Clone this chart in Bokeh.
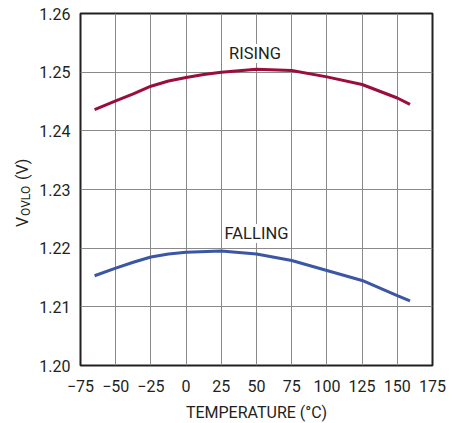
from bokeh.plotting import figure
from bokeh.layouts import row
from bokeh.models import FixedTicker, Label, Range1d, NumeralTickFormatter
from bokeh.core.properties import value
from bokeh.embed import file_html
from bokeh.resources import INLINE

# Data
temp_rising = [-65, -50, -37.5, -25, -12.5, 0, 12.5, 25, 50, 75, 100, 125, 150, 159]
vovlo_rising = [1.2436, 1.2451, 1.2463, 1.2476, 1.2485, 1.2491, 1.2496, 1.2500, 1.2505, 1.2503, 1.2492, 1.2479, 1.2456, 1.2445]
temp_falling = [-65, -50, -37.5, -25, -12.5, 0, 25, 50, 75, 100, 125, 150, 159]
vovlo_falling = [1.2153, 1.2166, 1.2176, 1.2185, 1.2190, 1.2193, 1.2195, 1.2190, 1.2179, 1.2162, 1.2145, 1.2119, 1.2110]

x_ticks = [-75, -50, -25, 0, 25, 50, 75, 100, 125, 150, 175]
x_tick_labels = ["−75", "−50", "−25", "0", "25", "50", "75", "100", "125", "150", "175"]
y_ticks = [1.20, 1.21, 1.22, 1.23, 1.24, 1.25, 1.26]

FONT = "Roboto"
TXT = "#231f20"
TOP, FH, BOT = 13, 352, 50
STRIP = 34

p = figure(output_backend="svg", toolbar_location=None,
           frame_width=352, frame_height=FH,
           min_border_left=80 - STRIP, min_border_top=TOP, min_border_right=23, min_border_bottom=BOT,
           x_range=Range1d(-75, 175), y_range=Range1d(1.20, 1.26))

p.outline_line_color = "#231f20"
p.outline_line_width = 2

p.xaxis.ticker = FixedTicker(ticks=x_ticks)
p.xaxis.major_label_overrides = {t: l for t, l in zip(x_ticks, x_tick_labels)}
p.yaxis.ticker = FixedTicker(ticks=y_ticks)
p.yaxis.formatter = NumeralTickFormatter(format="0.00")

for ax in (p.xaxis, p.yaxis):
    ax.axis_line_color = None
    ax.major_tick_line_color = None
    ax.minor_tick_line_color = None
    ax.major_tick_out = 0
    ax.major_tick_in = 0
    ax.minor_tick_out = 0
    ax.minor_tick_in = 0
    ax.major_label_text_font = FONT
    ax.major_label_text_font_size = "16px"
    ax.major_label_text_color = TXT
p.xaxis.major_label_standoff = 14
p.yaxis.major_label_standoff = 10

p.xaxis.axis_label = "TEMPERATURE (°C)"
p.xaxis.axis_label_text_font = FONT
p.xaxis.axis_label_text_font_size = "16px"
p.xaxis.axis_label_text_font_style = "normal"
p.xaxis.axis_label_text_color = TXT
p.xaxis.axis_label_standoff = 8

p.xgrid.ticker = FixedTicker(ticks=x_ticks)
p.ygrid.ticker = FixedTicker(ticks=y_ticks)
p.grid.grid_line_color = "#8a8a8a"
p.grid.grid_line_width = 1

p.line(temp_rising, vovlo_rising, line_color="#9b0e3c", line_width=3, line_join="round")
p.line(temp_falling, vovlo_falling, line_color="#3a56a5", line_width=3, line_join="round")

for txt, x, y in [("RISING", 49, 1.2532), ("FALLING", 50, 1.2225)]:
    p.add_layout(Label(x=x, y=y, text=txt, text_font=FONT, text_font_size="16.5px",
                       text_color=TXT, text_align="center", text_baseline="middle",
                       background_fill_color="white"))

# Left strip holding the rotated y-axis title V_OVLO (V)
lab = figure(output_backend="svg", toolbar_location=None,
             frame_width=STRIP, frame_height=FH,
             min_border_left=0, min_border_right=0, min_border_top=TOP, min_border_bottom=BOT,
             x_range=Range1d(0, STRIP), y_range=p.y_range)
lab.axis.visible = False
lab.grid.visible = False
lab.outline_line_color = None

lab.text(x=[22], y=[1.2236], text=["V"], angle=1.5708, text_font=value(FONT),
         text_font_size="16px", text_color=TXT, text_align="left", text_baseline="middle")
lab.text(x=[25.5], y=[1.2255], text=["OVLO"], angle=1.5708, text_font=value(FONT),
         text_font_size="12px", text_color=TXT, text_align="left", text_baseline="middle")
lab.text(x=[22], y=[1.2316], text=["(V)"], angle=1.5708, text_font=value(FONT),
         text_font_size="16px", text_color=TXT, text_align="left", text_baseline="middle")

layout = row(lab, p, spacing=0)
open("out.html", "w").write(file_html(layout, INLINE))
